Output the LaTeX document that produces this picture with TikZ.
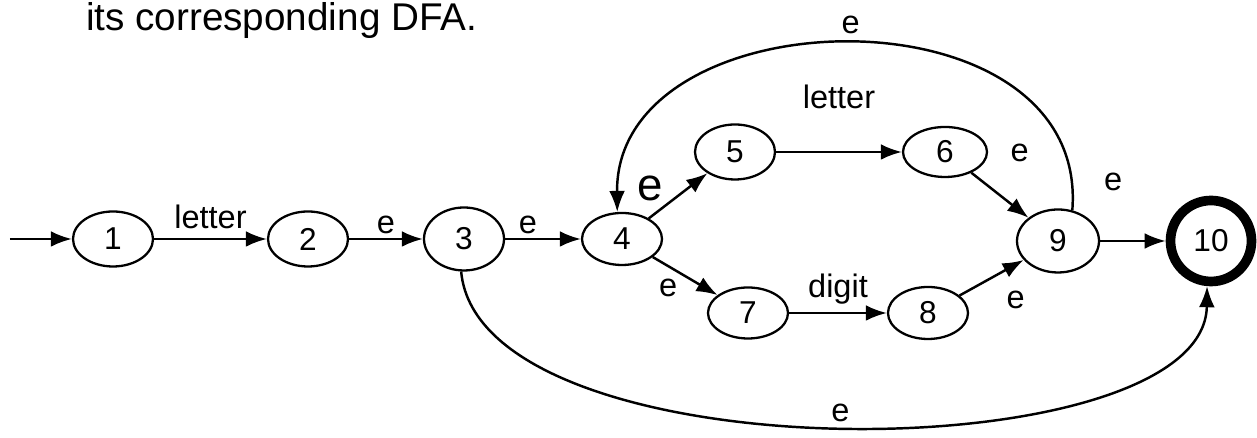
\documentclass[tikz,border=0pt]{standalone}
\usepackage{fontspec}
\setmainfont{Liberation Sans}
\usetikzlibrary{shapes.geometric, arrows.meta, positioning}

\begin{document}
\begin{tikzpicture}
        \tikzstyle{state} = [ellipse, draw=black, line width=1.3pt, minimum width=1.6cm, minimum height=1.1cm, inner sep=0pt, font=\fontsize{18}{20}\selectfont]
        \tikzstyle{accept} = [circle, draw=black, line width=5.5pt, minimum size=1.62cm, inner sep=0pt, font=\fontsize{18}{20}\selectfont]
        \tikzstyle{arrow} = [line width=1.4pt,->,>={Latex[length=12pt,width=9pt]}]
        \tikzstyle{lbl} = [font=\fontsize{18.5}{20}\selectfont, inner sep=2pt]

        \useasboundingbox (0,0) rectangle (25.14,8.76);

        % Nodes
        \node (title) [anchor=base west, font=\fontsize{22}{24}\selectfont] at (1.6,8.14) {its corresponding DFA.};
        \coordinate (start) at (0.2,3.98);
        \node (s1) [state] at (2.26,3.98) {1};
        \node (s2) [state] at (6.16,3.98) {2};
        \node (s3) [state, minimum height=1.26cm] at (9.28,3.98) {3};
        \node (s4) [state, minimum height=1.04cm] at (12.44,3.98) {4};
        \node (s5) [state] at (14.70,5.72) {5};
        \node (s6) [state, minimum width=1.68cm, minimum height=1.0cm] at (18.90,5.72) {6};
        \node (s7) [state, minimum height=1.02cm] at (14.96,2.50) {7};
        \node (s8) [state, minimum height=1.04cm] at (18.56,2.50) {8};
        \node (s9) [state, minimum width=1.64cm, minimum height=1.26cm] at (21.16,3.94) {9};
        \node (s10) [accept] at (24.22,3.94) {10};

        % Arrows
        \draw [arrow] (start) -- (s1);
        \draw [arrow] (s1) -- node[lbl, above=3pt] {letter} (s2);
        \draw [arrow] (s2) -- node[lbl, above] {e} (s3);
        \draw [arrow] (s3) -- node[lbl, above, pos=0.3] {e} (s4);
        \draw [arrow] (s4) -- node[lbl, above left=-1pt, pos=0.3, font=\fontsize{26}{28}\selectfont] {e} (s5);
        \draw [arrow] (s4) -- node[lbl, below left, pos=0.45] {e} (s7);
        \draw [arrow] (s5) -- node[lbl, above=22pt] {letter} (s6);
        \draw [arrow] (s7) -- node[lbl, above=2pt] {digit} (s8);
        \draw [arrow] (s6) -- node[lbl, above right=5pt and 18pt, pos=0.05] {e} (s9);
        \draw [arrow] (s8) -- node[lbl, below right=6pt and 4pt, pos=0.55] {e} (s9);
        \draw [arrow] (s9) -- node[lbl, above=26pt, pos=0.2] {e} (s10);
        \draw [arrow] (s9.65) .. controls (21.8,9.1) and (12.3,8.9) .. node[lbl, above=3pt] {e} (s4.100);
        \draw [arrow] (s3.265) .. controls (9.6,-0.8) and (24.1,-0.7) .. node[lbl, above] {e} (s10.265);

\end{tikzpicture}
\end{document}
